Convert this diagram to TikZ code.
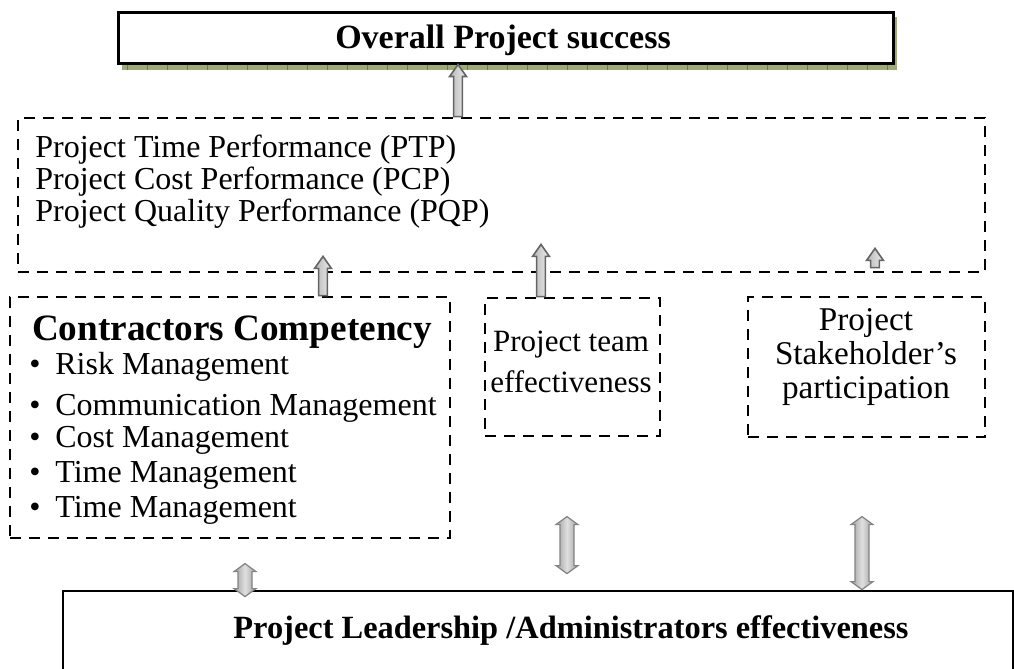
\documentclass[tikz,border=0pt]{standalone}
\usepackage{fontspec}
\setmainfont{Liberation Serif}
\usetikzlibrary{calc}
\definecolor{shadowgreen}{RGB}{158,170,122}
\definecolor{arrowedge}{RGB}{100,100,100}
\tikzset{
  dashbox/.style={draw, line width=1.4pt, dash pattern=on 5.5pt off 4pt, inner sep=0pt},
  solidbox/.style={draw, line width=1.5pt, fill=white, inner sep=0pt},
  bodytxt/.style={inner sep=0pt, font=\fontsize{16pt}{18pt}\selectfont},
  headtxt/.style={inner sep=0pt, font=\bfseries\fontsize{16.5pt}{19pt}\selectfont},
  % hollow block arrow, drawn from lower end to upper end
  blockup/.style={draw=arrowedge, line width=0.8pt, left color=gray!55, right color=gray!15,
    to path={let \p1=(\tikztostart), \p2=(\tikztotarget) in
      (\x1-2.2pt,\y1) -- (\x1-2.2pt,\y2-6pt) -- (\x1-4.2pt,\y2-6pt) -- (\x1,\y2)
      -- (\x1+4.2pt,\y2-6pt) -- (\x1+2.2pt,\y2-6pt) -- (\x1+2.2pt,\y1) -- cycle}},
  blockboth/.style={draw=arrowedge!80, line width=0.6pt, left color=gray!75, right color=gray!75, middle color=gray!25,
    to path={let \p1=(\tikztostart), \p2=(\tikztotarget) in
      (\x1,\y1) -- (\x1+5.5pt,\y1+4pt) -- (\x1+3.5pt,\y1+4pt) -- (\x1+3.5pt,\y2-4pt)
      -- (\x1+5.5pt,\y2-4pt) -- (\x1,\y2) -- (\x1-5.5pt,\y2-4pt) -- (\x1-3.5pt,\y2-4pt)
      -- (\x1-3.5pt,\y1+4pt) -- (\x1-5.5pt,\y1+4pt) -- cycle}}
}
\begin{document}
\begin{tikzpicture}[x=0.5pt,y=-0.5pt]
  \useasboundingbox (0,0) rectangle (1014,669);
  \clip (0,0) rectangle (1014,669);

  % top box with its shadow
  \fill[shadowgreen] (122,17) rectangle (897,70);
  \foreach \i in {0,...,38}{
    \draw[shadowgreen!70!black, line width=0.3pt] (127+\i*20,63) -- (127+\i*20,70);
  }
  \node[solidbox, minimum width=387.5pt, minimum height=25.5pt] (success) at (505.5,37.5) {};
  \node[headtxt, font=\bfseries\fontsize{17pt}{19pt}\selectfont] (successtxt) at (503,40) {Overall Project success};

  % performance box
  \node[dashbox, minimum width=483.5pt, minimum height=77pt] (perf) at (501.5,195) {};
  \foreach \y/\t [count=\n] in {150/Project Time Performance (PTP),
                                182/Project Cost Performance (PCP),
                                214/Project Quality Performance (PQP)}{
    \node[bodytxt, anchor=west] (perf\n) at (35,\y) {\t};
  }

  % the three factor boxes
  \node[dashbox, minimum width=220pt, minimum height=120.5pt] (contr) at (230,417.5) {};
  \node[headtxt, font=\bfseries\fontsize{18.6pt}{21pt}\selectfont] (contrtitle) at (232,332) {Contractors Competency};
  \foreach \y/\t [count=\n] in {367/Risk Management, 408/Communication Management,
                                440/Cost Management, 475/Time Management, 510/Time Management}{
    \node[bodytxt, anchor=west] (item\n) at (29,\y) {\makebox[13pt][l]{\fontsize{16pt}{16pt}\selectfont\textbullet}\t};
  }

  \node[dashbox, minimum width=87.5pt, minimum height=69pt] (team) at (572.5,367) {};
  \node[bodytxt, align=center, font=\fontsize{15.5pt}{20.5pt}\selectfont] (teamtxt) at (571,362) {Project team\\effectiveness};

  \node[dashbox, minimum width=118.5pt, minimum height=70pt] (stake) at (866.5,367) {};
  \node[bodytxt, align=center, font=\fontsize{16.6pt}{17pt}\selectfont] (staketxt) at (866,357) {Project\\Stakeholder’s\\participation};

  % bottom box
  \node[solidbox, line width=1.4pt, minimum width=475pt, minimum height=64.5pt] (lead) at (538,655.5) {};
  \node[headtxt, font=\bfseries\fontsize{16.2pt}{19pt}\selectfont] (leadtxt) at (571,631) {Project Leadership /Administrators effectiveness};

  % block arrows
  \coordinate (xa) at (458,0);
  \coordinate (xb) at (323,0);
  \coordinate (xc) at (541,0);
  \coordinate (xd) at (875,0);
  \draw[blockup] (perf.north -| xa) to (success.south -| xa);
  \draw[blockup] (contr.north -| xb) to ($(perf.south -| xb)+(0,-17)$);
  \draw[blockup] (team.north -| xc) to ($(perf.south -| xc)+(0,-29)$);
  \draw[blockup] ($(stake.north -| xd)+(0,-28)$) to ($(perf.south -| xd)+(0,-25)$);

  \coordinate (xe) at (245,0);
  \coordinate (xf) at (567,0);
  \coordinate (xg) at (862,0);
  \draw[blockboth] ($(lead.north -| xe)+(0,7)$) to ($(lead.north -| xe)+(0,-26)$);
  \draw[blockboth] ($(lead.north -| xf)+(0,-16)$) to ($(lead.north -| xf)+(0,-73)$);
  \draw[blockboth] (lead.north -| xg) to ($(lead.north -| xg)+(0,-73)$);
\end{tikzpicture}
\end{document}
